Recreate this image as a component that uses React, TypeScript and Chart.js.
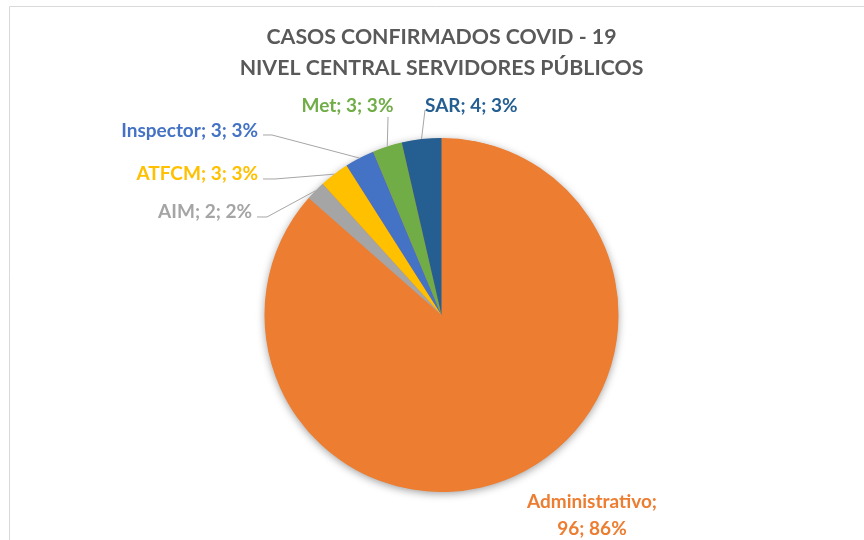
import React, { useEffect, useRef } from "react";
import { Chart, registerables } from "chart.js";

Chart.register(...registerables);

// ---- data ----
const categories = ["Administrativo", "AIM", "ATFCM", "Inspector", "Met", "SAR"];
const cases = [96, 2, 3, 3, 3, 4];
const percentLabels = ["86%", "2%", "3%", "3%", "3%", "3%"];
const titleLines = ["CASOS CONFIRMADOS COVID - 19", "NIVEL CENTRAL SERVIDORES PÚBLICOS"];

// ---- styles ----
const sliceColors = ["#ED7D31", "#A5A5A5", "#FFC000", "#4472C4", "#70AD47", "#255E91"];
const FONT = "Lato, 'Open Sans', sans-serif";

// label placement relative to the pie centre (dx, dy) – baseline coordinates
type LabelPlace = {
  align: CanvasTextAlign;
  dx: number;
  dy: number;
  lineGap: number;
  split: boolean;
  leader: number[][] | null; // leader points (relative), ends at the slice edge
};
const labelPlaces: LabelPlace[] = [
  { align: "center", dx: 150.5, dy: 193, lineGap: 27, split: true, leader: null },
  { align: "right", dx: -189.5, dy: -97, lineGap: 0, split: false, leader: [[-184.5, -98], [-174.5, -98]] },
  { align: "right", dx: -183.5, dy: -135, lineGap: 0, split: false, leader: [[-178.5, -136], [-166.5, -136]] },
  { align: "right", dx: -183.5, dy: -178, lineGap: 0, split: false, leader: [[-178.5, -180], [-169.5, -180]] },
  { align: "center", dx: -94, dy: -203, lineGap: 0, split: false, leader: [[-53.5, -198]] },
  { align: "left", dx: -16.5, dy: -203, lineGap: 0, split: false, leader: [[-16.5, -205]] },
];

const framePlugin = {
  id: "frame",
  beforeDraw(chart: any) {
    const ctx = chart.ctx;
    ctx.save();
    ctx.fillStyle = "#ffffff";
    ctx.fillRect(0, 0, chart.width, chart.height);
    ctx.strokeStyle = "#D9D9D9";
    ctx.lineWidth = 1;
    ctx.beginPath();
    ctx.moveTo(9.5, chart.height);
    ctx.lineTo(9.5, 6.5);
    ctx.lineTo(chart.width, 6.5);
    ctx.stroke();
    ctx.restore();
  },
};

const shadowPlugin = {
  id: "pieShadow",
  beforeDatasetsDraw(chart: any) {
    const meta = chart.getDatasetMeta(0);
    const arc = meta.data[0];
    if (!arc) return;
    const { x, y, outerRadius } = arc.getProps(["x", "y", "outerRadius"], true);
    const ctx = chart.ctx;
    ctx.save();
    ctx.shadowColor = "rgba(0,0,0,0.4)";
    ctx.shadowBlur = 9;
    ctx.shadowOffsetX = 0;
    ctx.shadowOffsetY = 2;
    ctx.fillStyle = "#ED7D31";
    ctx.beginPath();
    ctx.arc(x, y, outerRadius - 0.5, 0, Math.PI * 2);
    ctx.fill();
    ctx.restore();
  },
};

const labelPlugin = {
  id: "sliceLabels",
  afterDatasetsDraw(chart: any) {
    const meta = chart.getDatasetMeta(0);
    const ctx = chart.ctx;
    ctx.save();
    meta.data.forEach((arc: any, i: number) => {
      const p = arc.getProps(["x", "y", "startAngle", "endAngle", "outerRadius"], true);
      const place = labelPlaces[i];
      const mid = (p.startAngle + p.endAngle) / 2;
      const ex = p.x + Math.cos(mid) * p.outerRadius;
      const ey = p.y + Math.sin(mid) * p.outerRadius;
      if (place.leader) {
        ctx.strokeStyle = "#A6A6A6";
        ctx.lineWidth = 1;
        ctx.beginPath();
        place.leader.forEach((pt, k) => {
          const lx = p.x + pt[0];
          const ly = p.y + pt[1];
          if (k === 0) ctx.moveTo(lx, ly);
          else ctx.lineTo(lx, ly);
        });
        ctx.lineTo(ex, ey);
        ctx.stroke();
      }
      const lines = place.split
        ? [categories[i] + ";", cases[i] + "; " + percentLabels[i]]
        : [categories[i] + "; " + cases[i] + "; " + percentLabels[i]];
      ctx.fillStyle = sliceColors[i];
      ctx.font = `bold 19px ${FONT}`;
      ctx.textAlign = place.align;
      ctx.textBaseline = "alphabetic";
      lines.forEach((t, k) => {
        ctx.fillText(t, p.x + place.dx, p.y + place.dy + k * place.lineGap);
      });
    });
    ctx.restore();
  },
};

export default function App() {
  const canvasRef = useRef<HTMLCanvasElement | null>(null);

  useEffect(() => {
    const canvas = canvasRef.current;
    if (!canvas) return;
    const chart = new Chart(canvas, {
      type: "pie",
      data: {
        labels: categories,
        datasets: [
          {
            data: cases,
            backgroundColor: sliceColors,
            borderWidth: 0,
          },
        ],
      },
      options: {
        animation: false,
        responsive: false,
        devicePixelRatio: 1,
        layout: { padding: { left: 19, right: 0, top: 0, bottom: 48 } },
        plugins: {
          legend: { display: false },
          tooltip: { enabled: false },
          title: {
            display: true,
            text: titleLines,
            color: "#595959",
            font: { family: FONT, size: 21.3, weight: "bold", lineHeight: 1.455 },
            padding: { top: 21.5, bottom: 54.5 },
          },
        },
      },
      plugins: [framePlugin, shadowPlugin, labelPlugin],
    });
    return () => chart.destroy();
  }, []);

  return (
    <div style={{ position: "absolute", left: 0, top: 0, width: 864, height: 540, background: "#fff" }}>
      <canvas ref={canvasRef} width={864} height={540} style={{ display: "block" }} />
    </div>
  );
}
